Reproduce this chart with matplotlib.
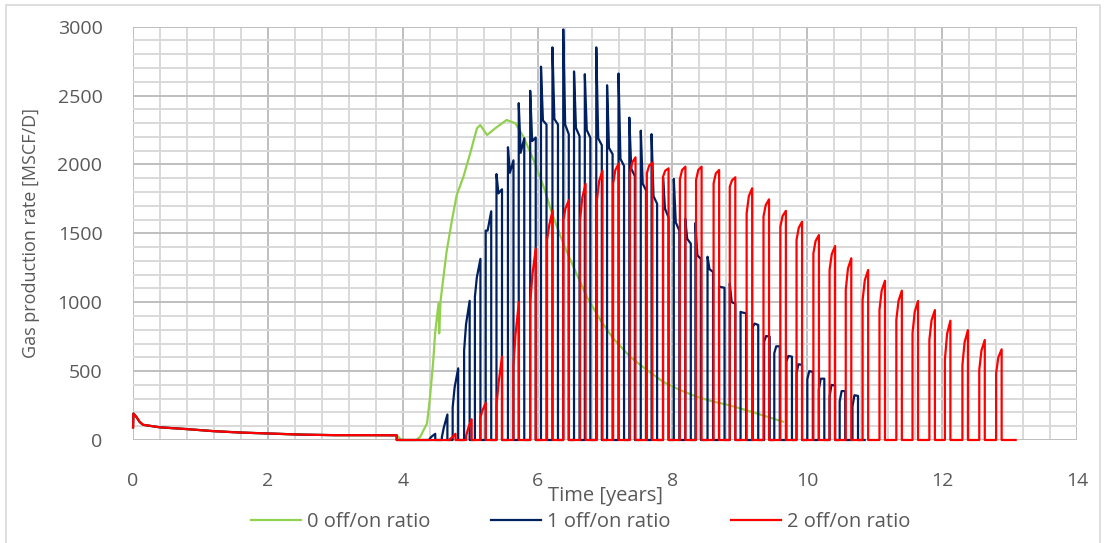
import matplotlib
matplotlib.use("Agg")
from matplotlib import pyplot as plt
from matplotlib.patches import Rectangle

plt.rcParams['font.family'] = ['Open Sans', 'DejaVu Sans']

# common early period (all three cases identical), years / MSCF/D
t_pre = [0.0, 0.005, 0.05, 0.10, 0.15, 0.4, 0.8, 1.2, 1.6, 2.0, 2.5, 3.0, 3.5, 3.91]
q_pre = [92, 192, 167, 130, 110, 92, 79, 64, 54, 47, 39, 35, 35, 34]

# 0 off/on ratio - continuous production
t_green = [3.98, 4.20, 4.26, 4.36, 4.40, 4.45, 4.48, 4.53, 4.54, 4.56, 4.58, 4.65, 4.73,
           4.80, 4.90, 5.00, 5.10, 5.15, 5.25, 5.37, 5.54, 5.67, 5.79, 5.94, 6.09, 6.23,
           6.38, 6.53, 6.73, 6.93, 7.12, 7.37, 7.62, 7.86, 8.11, 8.36, 8.61, 8.83, 9.00,
           9.30, 9.64]
q_green = [0, 0, 24, 121, 290, 560, 774, 992, 774, 1004, 1089, 1367, 1597,
           1778, 1911, 2081, 2262, 2286, 2214, 2262, 2323, 2299, 2201, 2032, 1838, 1621,
           1428, 1258, 1040, 871, 738, 605, 508, 423, 363, 314, 278, 254, 230,
           185, 133]

# 1 off/on ratio - cycle start [years], rate at switch-on, knee, at switch-off
nv_start = [4.40, 4.58, 4.74, 4.91, 5.07, 5.23, 5.39, 5.56, 5.72, 5.89, 6.05, 6.22, 6.38,
            6.54, 6.70, 6.87, 7.03, 7.20, 7.36, 7.53, 7.69, 7.86, 8.02, 8.19, 8.34, 8.52,
            8.69, 8.85, 9.01, 9.19, 9.36, 9.51, 9.69, 9.84, 10.00, 10.17, 10.33, 10.48, 10.67]
nv_on = [10, 20, 235, 650, 1040, 1520, 1930, 2125, 2445, 2535, 2710, 2850, 2980,
         2675, 2655, 2850, 2575, 2660, 2340, 2245, 2220, 1905, 1895, 1605, 1575, 1330,
         1115, 1135, 930, 820, 715, 630, 570, 485, 440, 365, 315, 280, 245]
nv_knee = [25, 90, 380, 840, 1180, 1520, 1790, 1940, 2085, 2170, 2320, 2330, 2290,
           2265, 2250, 2190, 2120, 2040, 1970, 1860, 1770, 1680, 1580, 1460, 1340, 1240,
           1110, 1000, 925, 845, 755, 680, 610, 550, 500, 445, 400, 355, 325]
nv_off = [45, 185, 520, 1010, 1315, 1660, 1820, 2030, 2190, 2195, 2290, 2290, 2220,
          2205, 2195, 2140, 2075, 1990, 1915, 1810, 1715, 1615, 1520, 1425, 1315, 1220,
          1105, 990, 920, 835, 750, 680, 605, 545, 495, 445, 395, 355, 320]
nv_last = 10.85

# 2 off/on ratio
rd_start = [4.70, 4.94, 5.15, 5.39, 5.64, 5.89, 6.14, 6.38, 6.63, 6.88, 7.12, 7.37, 7.62,
            7.86, 8.11, 8.35, 8.61, 8.85, 9.10, 9.35, 9.60, 9.84, 10.09, 10.33, 10.57,
            10.82, 11.07, 11.32, 11.56, 11.81, 12.04, 12.30, 12.55, 12.80]
rd_on = [5, 30, 160, 245, 530, 990, 1450, 1595, 1595, 1740, 1860, 1936, 1936,
         1911, 1892, 1887, 1863, 1838, 1645, 1621, 1548, 1452, 1355, 1234, 1089,
         1016, 944, 871, 774, 726, 581, 544, 508, 484]
rd_mid = [20, 90, 215, 420, 770, 1200, 1560, 1680, 1760, 1880, 1960, 2015, 1990,
          1955, 1960, 1960, 1935, 1885, 1770, 1705, 1625, 1540, 1445, 1350, 1245,
          1160, 1085, 1010, 930, 870, 770, 710, 650, 600]
rd_off = [45, 150, 270, 605, 1000, 1390, 1665, 1740, 1860, 1955, 2005, 2052, 2013,
          1972, 1984, 1984, 1960, 1907, 1827, 1747, 1664, 1585, 1488, 1408, 1319,
          1234, 1156, 1084, 1009, 943, 866, 798, 726, 658]
rd_last = 13.09

ON_TIME = 0.082  # 30 days of flow per cycle


def cyclic(starts, q_on, q_mid, q_off, t_last, knee):
    t = list(t_pre) + [t_pre[-1]]
    q = list(q_pre) + [0]
    for s, a, b, c in zip(starts, q_on, q_mid, q_off):
        t += [s, s, s + knee * ON_TIME, s + ON_TIME, s + ON_TIME]
        q += [0, a, b, c, 0]
    t.append(t_last)
    q.append(0)
    return t, q


fig = plt.figure(figsize=(11.06, 5.43), dpi=100)
ax = fig.add_axes([0.1203, 0.1897, 0.8535, 0.7611])

tg = t_pre + t_green
qg = q_pre + q_green
tn, qn = cyclic(nv_start, nv_on, nv_knee, nv_off, nv_last, 0.35)
tr, qr = cyclic(rd_start, rd_on, rd_mid, rd_off, rd_last, 0.4)

ax.plot(tg, qg, color='#92d050', lw=1.6, label='0 off/on ratio', clip_on=False)
ax.plot(tn, qn, color='#002060', lw=1.6, label='1 off/on ratio', clip_on=False)
ax.plot(tr, qr, color='#ff0000', lw=1.6, label='2 off/on ratio', clip_on=False)

ax.set_xlim(0, 14)
ax.set_ylim(0, 3000)
ax.set_xticks(range(0, 15, 2))
ax.set_xticks([i * 0.4 for i in range(36)], minor=True)
ax.set_yticks(range(0, 3001, 500))
ax.set_yticks(range(0, 3001, 100), minor=True)
ax.grid(which='major', color='#bfbfbf', lw=1.4)
ax.grid(which='minor', color='#d9d9d9', lw=1.4)
ax.set_axisbelow(True)
for sp in ax.spines.values():
    sp.set_visible(False)
ax.tick_params(which='both', length=0, labelsize=14, labelcolor='#595959')
ax.tick_params(axis='x', pad=23)
ax.tick_params(axis='y', pad=22)

ax.set_xlabel('Time [years]', fontsize=14.5, color='#595959')
ax.xaxis.set_label_coords(0.5, -0.135)
ax.xaxis.label.set_va('center')
ax.set_ylabel('Gas production rate [MSCF/D]', fontsize=13, color='#595959')
ax.yaxis.set_label_coords(-0.108, 0.5)
ax.yaxis.label.set_va('center')

fig.legend(loc='center', bbox_to_anchor=(0.525, 0.039), ncol=3, frameon=False,
           fontsize=14.5, handlelength=2.5, columnspacing=3.0, handletextpad=0.3,
           labelcolor='#595959')

fig.patches.append(Rectangle((0.005, -0.01), 0.99, 1.0, transform=fig.transFigure,
                             fill=False, edgecolor='#d9d9d9', lw=1.2))

fig.savefig('out.png', dpi=100)
